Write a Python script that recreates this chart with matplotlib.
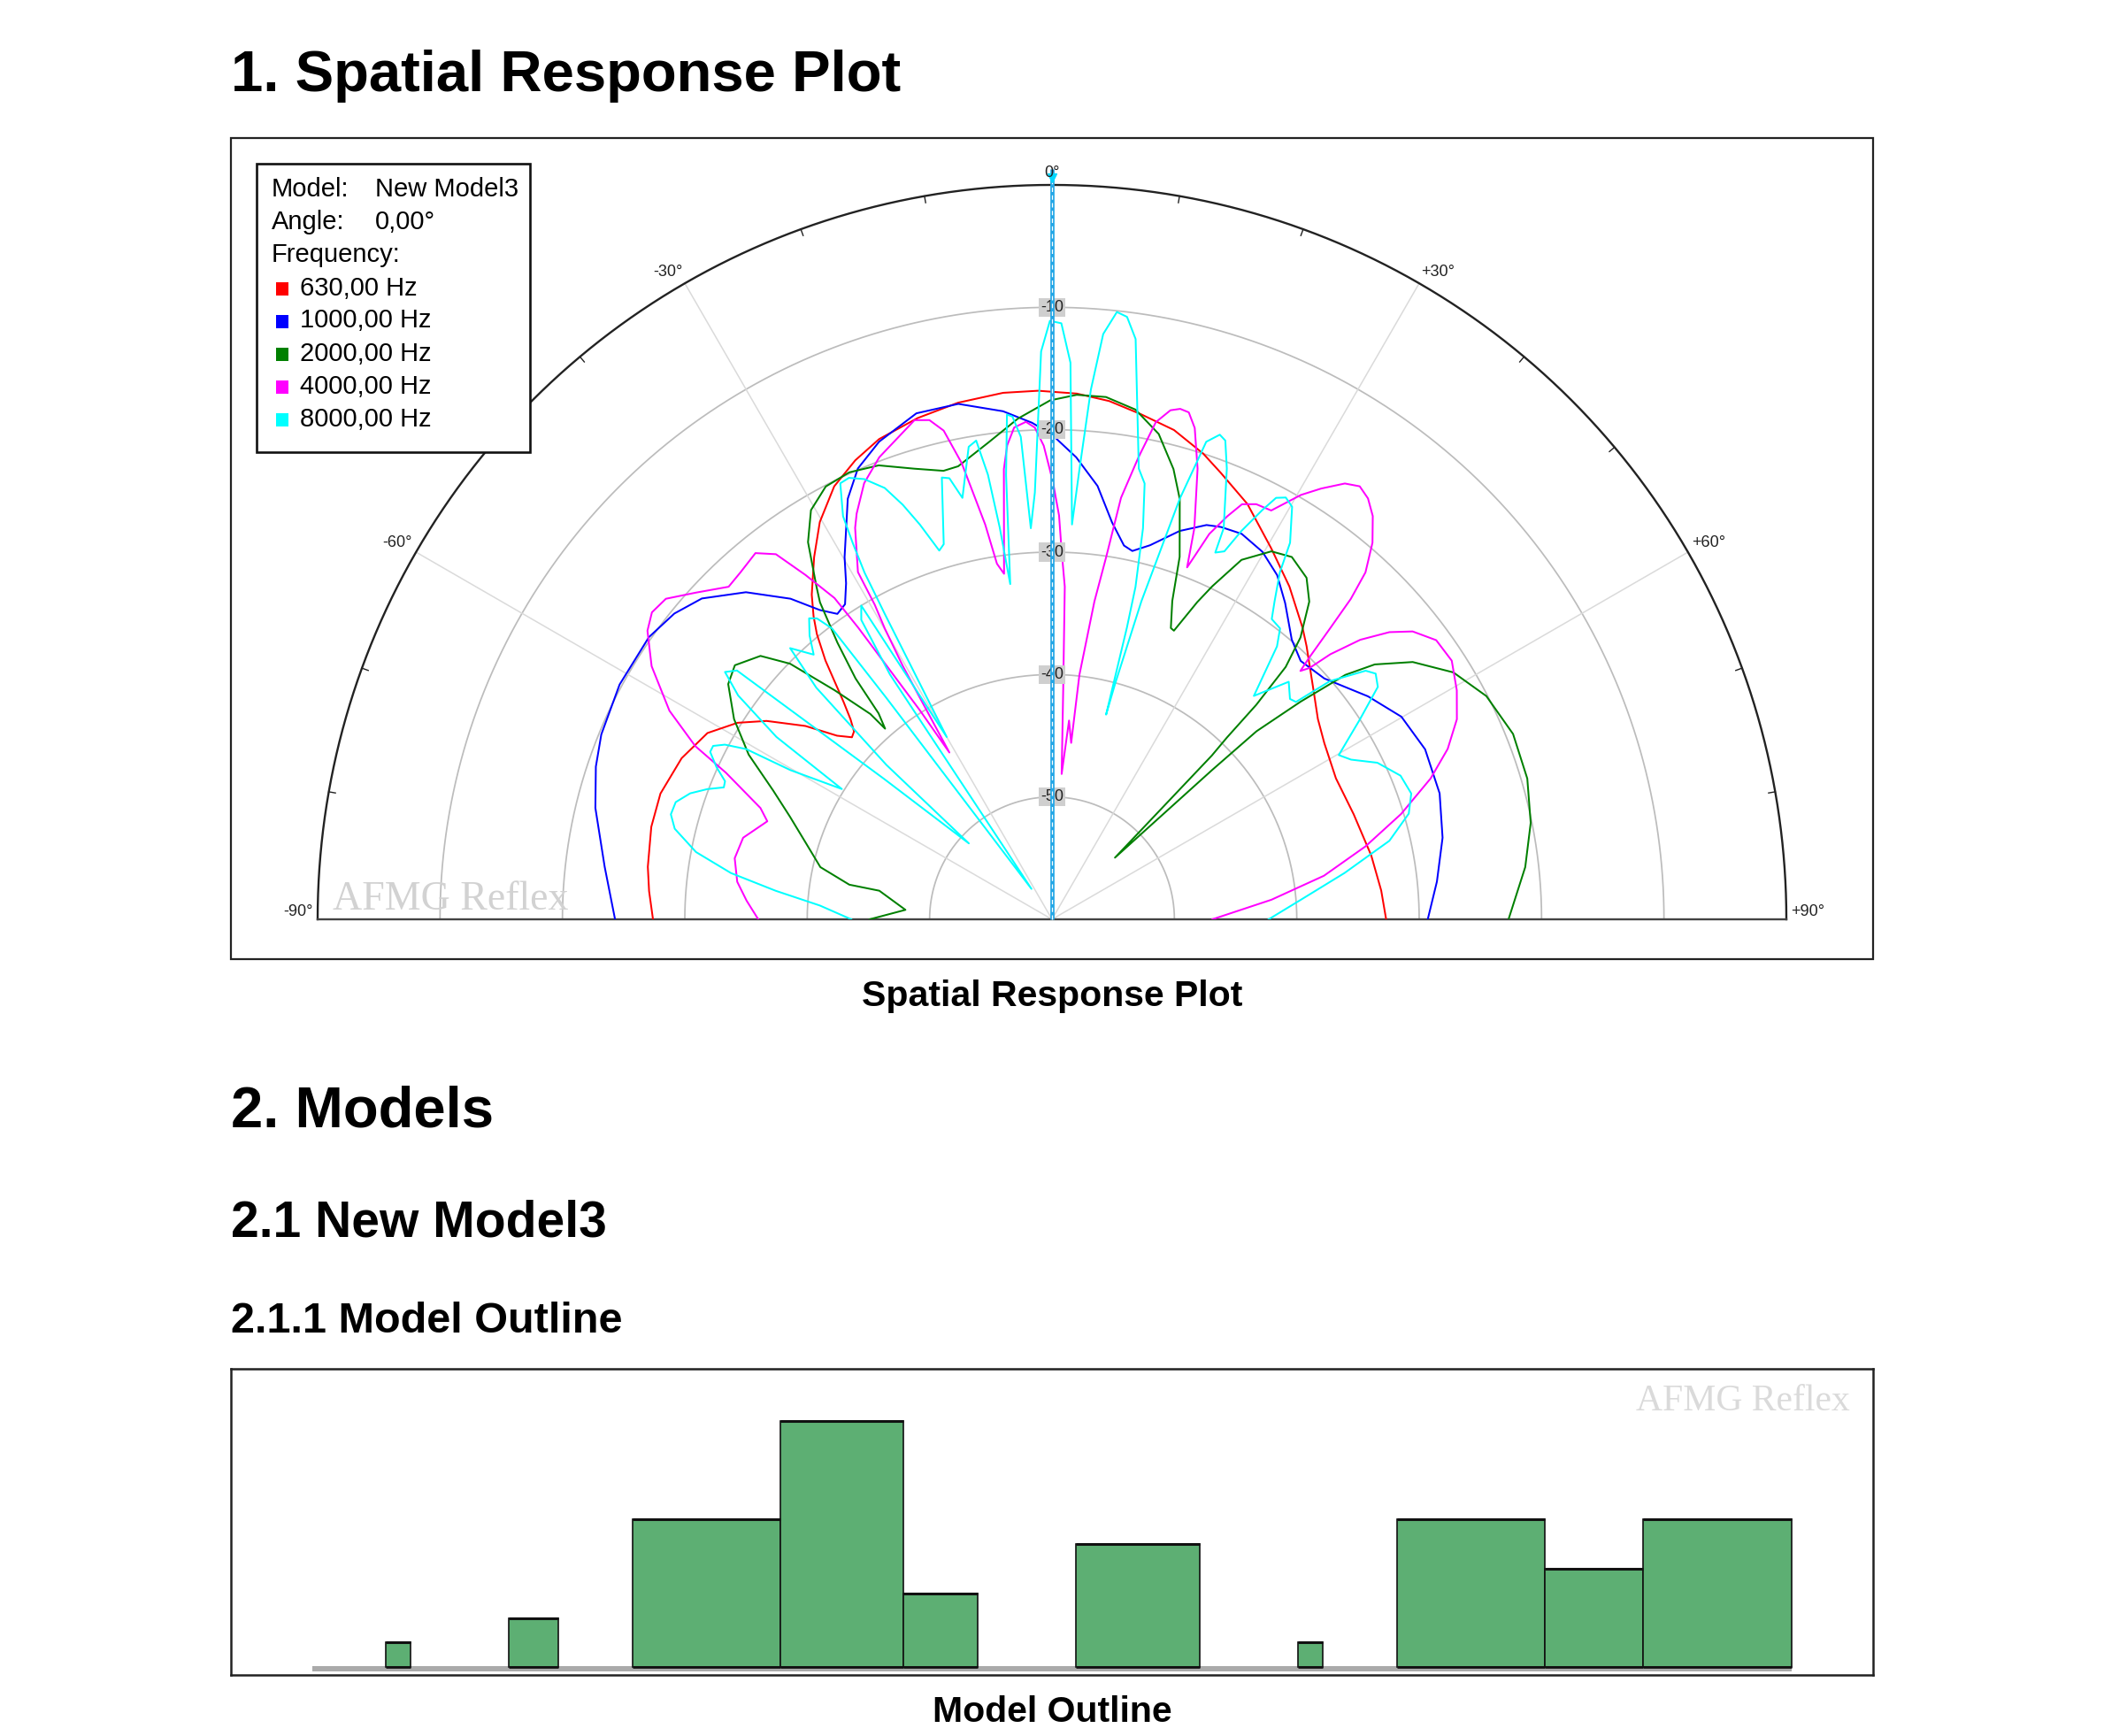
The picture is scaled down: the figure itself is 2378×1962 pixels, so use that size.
import numpy as np
import matplotlib
matplotlib.use("Agg")
import matplotlib.pyplot as plt
from matplotlib.patches import Rectangle

# ---------------- data ----------------
legend_model = "New Model3"
legend_angle = "0,00°"
freq_labels = ["630,00 Hz", "1000,00 Hz", "2000,00 Hz", "4000,00 Hz", "8000,00 Hz"]
freq_colors = ["#ff0000", "#0000ff", "#008000", "#ff00ff", "#00ffff"]

ring_levels = [-10, -20, -30, -40, -50]
spoke_angles = [-60, -30, 30, 60]
tick_angles = [-80, -70, -50, -40, -20, -10, 10, 20, 40, 50, 70, 80]
angle_marks = [-90, -60, -30, 0, 30, 60, 90]
angle_texts = ["-90°", "-60°", "-30°", "0°", "+30°", "+60°", "+90°"]

deg_630 = [-90, -86, -82.6, -77, -72.2, -66.5, -61.6, -58.0, -55.2, -51.9, -49.5, -47.7, -46.5, -45.2, -43.8,
           -41.2, -39.5, -38.2, -36.5, -33.3, -30.3, -26.7, -23.2, -19.8, -15.0, -10.3, -5.3, -1.5, 2.7, 6.3,
           10.0, 14.0, 18.0, 20.7, 25.2, 30.6, 35.5, 40.7, 43.0, 48.8, 53.0, 57.1, 63.6, 70.8, 78.7, 85.0, 90]
db_630 = [-27.4, -27.0, -26.7, -26.4, -26.4, -27.0, -28.0, -29.7, -31.6, -34.4, -36.9, -37.9, -37.7, -36.8, -35.4,
          -31.9, -29.8, -28.5, -27.0, -24.6, -22.4, -20.4, -19.2, -18.3, -17.6, -17.1, -16.8, -16.8, -17.0, -17.4,
          -18.1, -18.8, -20.0, -21.0, -22.5, -24.8, -26.6, -28.6, -29.5, -31.6, -32.8, -33.5, -34.1, -33.9, -33.4,
          -33.0, -32.7]

deg_1000 = [-90, -83.3, -76.3, -71.5, -67.7, -61.5, -55.0, -51.0, -47.5, -43.1, -39.2, -36.9, -35.1, -33.3, -31.5,
            -29.8, -25.9, -23.3, -19.9, -15.0, -10.3, -5.5, -2.3, 0.0, 3.0, 6.0, 8.6, 10.9, 12.3, 14.7,
            18.2, 21.4, 23.3, 26.2, 29.8, 33.2, 36.4, 40.6, 43.9, 48.5, 54.8, 59.9, 65.5, 72.0, 78.2, 84.4, 90]
db_1000 = [-24.3, -23.2, -21.6, -20.7, -20.2, -19.8, -19.8, -20.3, -21.2, -23.4, -26.2, -28.4, -29.5, -29.2, -27.8,
           -25.9, -21.8, -19.9, -18.5, -17.2, -17.2, -18.3, -19.4, -20.4, -22.2, -24.4, -27.2, -28.9, -29.2, -28.4,
           -26.6, -25.4, -25.1, -24.9, -25.4, -26.4, -27.9, -29.9, -30.7, -30.3, -28.4, -27.0, -26.5, -26.7, -27.4,
           -28.4, -29.3]

deg_2000 = [-90, -86.3, -80.6, -80.3, -77.3, -73.4, -68.6, -65.2, -61.5, -57.8, -54.0, -51.3, -47.9, -45.7, -43.5,
            -41.5, -41.2, -40.1, -39.2, -37.8, -36.2, -35.3, -32.9, -30.5, -27.6, -24.4, -20.9, -17.0, -13.6, -11.7,
            -7.6, -3.9, -0.2, 2.7, 5.9, 9.3, 12.4, 15.1, 16.9, 19.4, 20.7, 22.2, 22.9, 24.6, 25.7,
            27.8, 30.8, 33.5, 36.7, 39.0, 41.4, 42.8, 43.6, 43.9, 44.3, 45.6, 47.0, 47.4, 48.8, 50.2,
            51.7, 54.5, 58.4, 62.8, 68.1, 73.5, 78.6, 83.7, 90]
db_2000 = [-45.1, -48.0, -45.7, -43.2, -40.6, -39.2, -37.0, -34.9, -31.8, -29.3, -27.3, -26.8, -27.9, -30.1, -34.2,
           -37.6, -39.3, -38.0, -34.6, -31.4, -27.9, -26.7, -23.3, -21.2, -20.1, -19.9, -20.3, -21.5, -22.3, -22.2,
           -20.7, -19.0, -17.6, -17.1, -17.1, -17.8, -19.4, -21.9, -24.1, -28.6, -32.2, -34.3, -34.4, -31.5, -29.8,
           -26.8, -25.0, -24.5, -25.2, -26.6, -29.3, -31.9, -35.8, -39.4, -41.3, -52.8, -42.1, -37.3, -33.0, -28.8,
           -26.4, -23.8, -21.5, -20.1, -19.4, -19.5, -20.1, -21.1, -22.7]

deg_4000 = [-90, -86.5, -83.2, -79.1, -75.2, -71.0, -69.1, -65.8, -64.1, -61.4,
            -57.7, -54.5, -52.5, -50.3, -47.5, -44.2, -41.9, -39.0, -37.1, -35.6,
            -34.1, -33.6, -32.3, -31.6, -30.5, -29.9, -29.4, -29.2, -26.7, -25.7,
            -23.3, -20.5, -15.4, -13.8, -12.5, -11.2, -10.5, -9.6, -8.8, -7.9,
            -6.1, -5.4, -4.4, -3.0, -2.0, -1.0, 0.1, 1.0, 1.5, 2.2,
            2.8, 3.8, 4.9, 6.2, 6.4, 7.6, 8.5, 9.3, 10.6, 11.8,
            13.1, 14.1, 15.1, 16.2, 17.9, 20.0, 21.0, 21.6, 22.2, 23.5,
            24.6, 26.2, 28.2, 30.4, 32.0, 33.9, 35.4, 36.9, 38.5, 40.4,
            42.1, 43.0, 43.7, 44.5, 45.0, 45.7, 46.4, 47.8, 49.6, 51.4,
            54.0, 57.1, 60.5, 63.7, 66.7, 69.6, 73.2, 76.9, 80.9, 84.9, 90]
db_4000 = [-36.0, -35.0, -34.1, -33.6, -33.9, -35.4, -34.5, -30.8, -27.6, -24.4,
           -21.3, -19.4, -18.8, -19.0, -20.5, -22.1, -21.9, -21.5, -22.6, -25.4,
           -28.3, -31.4, -39.8, -44.0, -36.0, -32.6, -30.5, -27.5, -24.2, -23.2,
           -21.2, -19.7, -17.7, -18.0, -19.1, -22.0, -24.5, -27.3, -30.6, -31.5,
           -23.0, -21.1, -19.7, -19.3, -19.8, -21.3, -24.2, -27.0, -29.9, -32.8,
           -41.3, -48.1, -43.7, -45.5, -39.9, -33.8, -30.1, -25.1, -21.6, -18.5,
           -17.3, -17.0, -17.1, -18.2, -21.3, -26.0, -29.2, -27.7, -26.0, -24.1,
           -22.7, -22.2, -22.1, -19.8, -18.5, -17.1, -16.6, -17.0, -17.9, -19.6,
           -21.8, -24.2, -27.1, -30.0, -31.3, -30.6, -28.6, -26.0, -23.8, -22.3,
           -21.2, -21.1, -22.0, -23.1, -24.8, -27.0, -30.2, -33.7, -37.5, -42.0, -46.9]

deg_8000 = [-90, -86.6, -84.1, -81.8, -79.3, -76.5, -74.6, -72.7, -70.8, -69.3,
            -68.1, -67.1, -65.6, -63.9, -62.9, -61.9, -60.9, -60.3, -58.2, -56.5,
            -54.5, -52.9, -51.7, -50.1, -47.6, -47.0, -45.5, -44.0, -42.0, -40.5,
            -38.9, -38.0, -37.1, -36.8, -34.0, -33.5, -32.5, -31.3, -30.0, -28.7,
            -28.6, -28.4, -27.9, -27.4, -25.9, -24.7, -23.1, -21.2, -19.8, -18.5,
            -17.0, -16.1, -14.0, -13.1, -12.0, -10.0, -9.0, -8.2, -7.6, -7.1,
            -5.9, -5.1, -4.5, -3.7, -3.1, -2.3, -1.1, -0.2, 0.9, 1.9,
            2.9, 3.5, 4.2, 5.0, 6.1, 7.1, 8.2, 10.9, 12.0, 13.1,
            14.1, 14.4, 14.8, 15.0, 15.7, 16.9, 17.9, 19.1, 19.9, 21.2,
            23.7, 24.0, 25.1, 26.0, 27.2, 28.0, 29.0, 30.2, 32.3, 33.3,
            35.0, 36.2, 38.1, 39.5, 42.1, 44.9, 47.2, 48.3, 49.4, 51.6,
            52.8, 54.5, 57.0, 60.2, 61.9, 64.3, 67.6, 70.7, 73.5, 76.9,
            81.0, 85.5, 90]
db_8000 = [-43.6, -41.0, -37.3, -33.5, -30.4, -28.3, -27.7, -27.8, -28.7, -29.9,
           -31.1, -31.0, -29.9, -28.9, -28.9, -29.7, -31.4, -35.4, -39.8, -33.0,
           -28.5, -26.5, -27.2, -42.1, -50.8, -41.5, -33.0, -29.2, -30.9, -29.5,
           -28.4, -28.8, -30.2, -37.4, -57.0, -36.0, -31.0, -30.0, -42.8, -31.5,
           -30.4, -27.8, -25.2, -22.9, -20.4, -20.3, -20.9, -22.2, -24.0, -26.0,
           -28.5, -28.1, -22.8, -23.0, -24.8, -20.8, -20.4, -23.3, -27.7, -32.4,
           -23.5, -18.6, -18.8, -20.5, -28.0, -25.1, -13.6, -11.1, -11.3, -14.5,
           -27.7, -23.1, -16.6, -12.0, -10.1, -10.4, -12.1, -22.5, -23.6, -27.2,
           -32.0, -35.4, -42.7, -40.1, -33.0, -24.1, -19.0, -18.1, -18.4, -20.5,
           -25.1, -27.2, -26.8, -24.7, -22.4, -21.0, -20.6, -21.0, -23.6, -26.1,
           -28.3, -29.6, -29.8, -31.1, -35.4, -32.6, -33.5, -33.3, -30.1, -27.3,
           -26.8, -27.3, -30.0, -33.0, -32.3, -30.5, -29.2, -28.9, -29.6, -31.7,
           -35.8, -39.6, -42.3]

series_deg = [deg_630, deg_1000, deg_2000, deg_4000, deg_8000]
series_db = [db_630, db_1000, db_2000, db_4000, db_8000]

# model outline (side view blocks, model units)
block_left = [3, 8, 13, 19, 24, 31, 40, 44, 50, 54]
block_width = [1, 2, 6, 5, 3, 5, 1, 6, 4, 6]
block_height = [1, 2, 6, 10, 3, 5, 1, 6, 4, 6]
ground_start, ground_end = 0, 60

# ---------------- figure ----------------
W, H = 2378, 1962
fig = plt.figure(figsize=(W / 100, H / 100), dpi=100)
fig.patch.set_facecolor("white")
SANS = ["Liberation Sans", "DejaVu Sans"]
SERIF = ["Liberation Serif", "DejaVu Serif"]


def fx(px):
    return px / W


def fy(py):
    return 1 - py / H


# headings
fig.text(fx(261), fy(103), "1. Spatial Response Plot", fontsize=47, fontweight="bold", family=SANS, va="baseline")
fig.text(fx(1189), fy(1137), "Spatial Response Plot", fontsize=29.5, fontweight="bold", family=SANS,
         va="baseline", ha="center")
fig.text(fx(261), fy(1274), "2. Models", fontsize=47, fontweight="bold", family=SANS, va="baseline")
fig.text(fx(261), fy(1398), "2.1 New Model3", fontsize=41, fontweight="bold", family=SANS, va="baseline")
fig.text(fx(261), fy(1506), "2.1.1 Model Outline", fontsize=35, fontweight="bold", family=SANS, va="baseline")
fig.text(fx(1189), fy(1946), "Model Outline", fontsize=29.5, fontweight="bold", family=SANS,
         va="baseline", ha="center")

# frame of polar panel
fig.add_artist(Rectangle((fx(261), fy(1084)), fx(2117) - fx(261), fy(156) - fy(1084),
                         transform=fig.transFigure, fill=False, ec="#222222", lw=1.6))

# ---------------- polar plot ----------------
R = 830
cx, cy = 1189, 1039
side = 2 * R
ax = fig.add_axes([fx(cx - R), fy(cy + 0.25 * side), side / W, side / H], projection="polar")
ax.set_theta_zero_location("N")
ax.set_theta_direction(-1)
ax.set_thetamin(-90)
ax.set_thetamax(90)
ax.set_ylim(-60, 0)
ax.set_axis_off()

arc = np.deg2rad(np.linspace(-90, 90, 721))
for lvl in ring_levels:
    ax.plot(arc, np.full_like(arc, lvl), color="#bcbcbc", lw=1.25, zorder=1)
for a in spoke_angles:
    ax.plot(np.deg2rad([a, a]), [-60, 0], color="#dadada", lw=1.1, zorder=1)
ax.plot(arc, np.zeros_like(arc), color="#222222", lw=1.7, zorder=2, clip_on=False)
for a in tick_angles:
    ax.plot(np.deg2rad([a, a]), [0, -0.55], color="#222222", lw=1.0, zorder=2, clip_on=False)
ax.plot(np.deg2rad([-90, 90]), [0, 0], color="#444444", lw=1.7, zorder=2, clip_on=False)

for d, v, c in zip(series_deg, series_db, freq_colors):
    ax.plot(np.deg2rad(d), v, color=c, lw=1.45, zorder=3)

for lvl in ring_levels:
    ax.text(0, lvl, str(lvl), ha="center", va="center", fontsize=13, family=SANS, color="#222222", zorder=5,
            bbox=dict(boxstyle="square,pad=0.12", fc="#cfcfcf", ec="none"))

# 0 degree indicator
ax.plot([0, 0], [-60, 1.3], color="#22a6e6", lw=3.4, zorder=6, clip_on=False, solid_capstyle="butt")
ax.plot([0, 0], [-60, 1.3], color="white", lw=0.9, dashes=(4, 3), zorder=7, clip_on=False)
ax.plot([0], [0.6], marker="v", ms=7, color="#00d8ff", zorder=7, clip_on=False)

for a, t in zip(angle_marks, angle_texts):
    if a == 0:
        ha = "center"
    elif a < 0:
        ha = "right"
    else:
        ha = "left"
    ax.text(np.deg2rad(a), 0.35, t, ha=ha, va="bottom", fontsize=13, family=SANS, color="#222222",
            clip_on=False, zorder=8)

# watermark
fig.text(fx(376), fy(1028), "AFMG Reflex", fontsize=33, family=SERIF, color="#d2d2d2", va="baseline")

# legend box
fig.add_artist(Rectangle((fx(290), fy(511)), fx(599) - fx(290), fy(185) - fy(511),
                         transform=fig.transFigure, fc="white", ec="#111111", lw=1.9, zorder=10))
lg_base = [221.5, 259, 296.5, 333.5, 370.5, 408, 445, 482]
fig.text(fx(307), fy(lg_base[0]), "Model:", fontsize=21, family=SANS, va="baseline", zorder=11)
fig.text(fx(424), fy(lg_base[0]), legend_model, fontsize=21, family=SANS, va="baseline", zorder=11)
fig.text(fx(307), fy(lg_base[1]), "Angle:", fontsize=21, family=SANS, va="baseline", zorder=11)
fig.text(fx(424), fy(lg_base[1]), legend_angle, fontsize=21, family=SANS, va="baseline", zorder=11)
fig.text(fx(307), fy(lg_base[2]), "Frequency:", fontsize=21, family=SANS, va="baseline", zorder=11)
for i, (lab, col) in enumerate(zip(freq_labels, freq_colors)):
    b = lg_base[3 + i]
    fig.add_artist(Rectangle((fx(311.5), fy(b)), 14.5 / W, 14.5 / H, transform=fig.transFigure,
                             fc=col, ec="none", zorder=11))
    fig.text(fx(339), fy(b), lab, fontsize=21, family=SANS, va="baseline", zorder=11)

# ---------------- model outline ----------------
px_per_unit = 27.87
x0_px, y0_px = 352.5, 1884.3
L, Rr, T, B = 261, 2117, 1547, 1893
ax2 = fig.add_axes([fx(L), fy(B), (Rr - L) / W, (B - T) / H])
ax2.set_xlim((L - x0_px) / px_per_unit, (Rr - x0_px) / px_per_unit)
ax2.set_ylim((y0_px - B) / px_per_unit, (y0_px - T) / px_per_unit)
ax2.set_xticks([])
ax2.set_yticks([])
for s in ax2.spines.values():
    s.set_color("#222222")
    s.set_linewidth(1.8)
ax2.bar(ground_start, 0.24, bottom=-0.18, width=ground_end - ground_start, align="edge",
        color="#aaaaaa", zorder=1)
ax2.bar(block_left, block_height, width=block_width, align="edge", color="#5daf73",
        edgecolor="#111111", linewidth=1.2, zorder=2)
for xl, w, h in zip(block_left, block_width, block_height):
    ax2.plot([xl, xl + w], [h, h], color="#111111", lw=2.2, zorder=3, solid_capstyle="butt")
    ax2.plot([xl, xl + w], [0, 0], color="#111111", lw=2.0, zorder=3, solid_capstyle="butt")
fig.text(fx(2091), fy(1594), "AFMG Reflex", fontsize=30, family=SERIF, color="#dadada",
         va="baseline", ha="right")

fig.savefig("out.png", dpi=100)
